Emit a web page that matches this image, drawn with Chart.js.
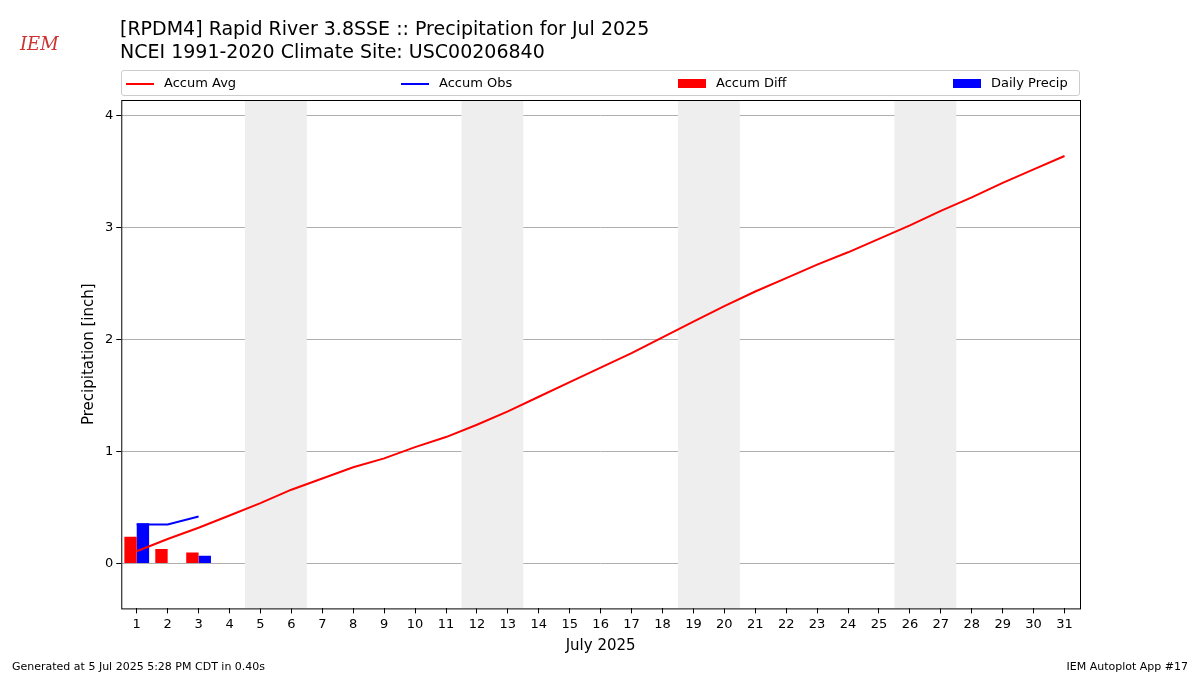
<!DOCTYPE html>
<html><head><meta charset="utf-8">
<script src="https://cdn.jsdelivr.net/npm/chart.js@4"></script>
<style>
body{margin:0;background:#fff;font-family:"DejaVu Sans",sans-serif;}
#wrap{position:relative;width:1200px;height:675px;}
.t{position:absolute;left:120px;font-size:19px;color:#000;}
#legend{position:absolute;left:121px;top:70px;width:957px;height:24px;border:1px solid #ccc;border-radius:3px;font-size:13px;}
.li{position:absolute;top:4px;}
.foot{position:absolute;top:660px;font-size:11px;}
</style></head><body>
<div id="wrap">
<canvas id="c" width="1200" height="675"></canvas>
<div style="position:absolute;left:20px;top:33px;color:#c33;font-family:'DejaVu Serif',serif;font-style:italic;font-size:18px;">IEM</div>
<div class="t" style="top:17px">[RPDM4] Rapid River 3.8SSE :: Precipitation for Jul 2025</div>
<div class="t" style="top:40px">NCEI 1991-2020 Climate Site: USC00206840</div>
<div id="legend">
<div class="li" style="left:4px"><span style="display:inline-block;width:28px;border-top:2px solid red;vertical-align:middle;margin-right:10px"></span>Accum Avg</div>
<div class="li" style="left:279px"><span style="display:inline-block;width:28px;border-top:2px solid blue;vertical-align:middle;margin-right:10px"></span>Accum Obs</div>
<div class="li" style="left:556px"><span style="display:inline-block;width:28px;height:9px;background:red;vertical-align:middle;margin-right:10px"></span>Accum Diff</div>
<div class="li" style="left:831px"><span style="display:inline-block;width:28px;height:9px;background:blue;vertical-align:middle;margin-right:10px"></span>Daily Precip</div>
</div>
<div class="foot" style="left:12px">Generated at 5 Jul 2025 5:28 PM CDT in 0.40s</div>
<div class="foot" style="right:12px">IEM Autoplot App #17</div>
</div>
<script>
const days = Array.from({length: 31}, (_, i) => String(i + 1));
const accumAvg = [0.11,0.22,0.32,0.43,0.54,0.66,0.76,0.86,0.94,1.04,1.13,1.24,1.36,1.49,1.62,1.75,1.88,2.02,2.16,2.30,2.43,2.55,2.67,2.78,2.90,3.02,3.15,3.27,3.40,3.52,3.64];
const accumObs = [0.35,0.35,0.42];
const accumDiff = [0.24,0.13,0.10];
const dailyPrecip = [0.36,0,0.07];
const weekends = [[5,6],[12,13],[19,20],[26,27]];
const yTicks = [0,1,2,3,4];

const decor = {
  id: 'decor',
  beforeDatasetsDraw(chart) {
    const {ctx, chartArea: a, scales: {x}} = chart;
    ctx.save();
    ctx.fillStyle = '#eeeeee';
    weekends.forEach(([s, e]) => {
      const w = x.getPixelForValue(1) - x.getPixelForValue(0);
      const l = x.getPixelForValue(s - 1) - w / 2, r = x.getPixelForValue(e - 1) + w / 2;
      ctx.fillRect(l, a.top, r - l, a.bottom - a.top);
    });
    ctx.restore();
  },
  afterDraw(chart) {
    const {ctx, chartArea: a} = chart;
    ctx.save();
    ctx.strokeStyle = '#000'; ctx.lineWidth = 1;
    ctx.strokeRect(a.left + 0.5, a.top + 0.5, a.right - a.left, a.bottom - a.top);
    ctx.restore();
  }
};

new Chart(document.getElementById('c'), {
  data: {
    labels: days,
    datasets: [
      {type: 'line', label: 'Accum Avg', data: accumAvg, borderColor: 'red', borderWidth: 2, pointRadius: 0, tension: 0, order: 1},
      {type: 'line', label: 'Accum Obs', data: accumObs, borderColor: 'blue', borderWidth: 2, pointRadius: 0, tension: 0, order: 1},
      {type: 'bar', label: 'Accum Diff', data: accumDiff, backgroundColor: 'red', order: 2},
      {type: 'bar', label: 'Daily Precip', data: dailyPrecip, backgroundColor: 'blue', order: 2}
    ]
  },
  options: {
    responsive: false, animation: false,
    layout: {padding: {top: 100, right: 120, left: 76, bottom: 16}},
    plugins: {legend: {display: false}, tooltip: {enabled: false}},
    datasets: {bar: {categoryPercentage: 0.8, barPercentage: 1}},
    scales: {
      x: {
        grid: {drawOnChartArea: false, color: '#000', tickLength: 5, offset: false},
        border: {display: false},
        ticks: {color: '#000', font: {size: 13, family: 'DejaVu Sans'}, maxRotation: 0, autoSkip: false},
        title: {display: true, text: 'July 2025', color: '#000', font: {size: 15, family: 'DejaVu Sans'}, padding: {top: 2}}
      },
      y: {
        min: -0.4, max: 4.14,
        afterBuildTicks: s => { s.ticks = yTicks.map(v => ({value: v})); },
        grid: {color: '#b0b0b0', tickColor: '#000', tickLength: 5},
        border: {display: false},
        ticks: {color: '#000', font: {size: 13, family: 'DejaVu Sans'}},
        title: {display: true, text: 'Precipitation [inch]', color: '#000', font: {size: 15, family: 'DejaVu Sans'}}
      }
    }
  },
  plugins: [decor]
});
</script>
</body></html>
